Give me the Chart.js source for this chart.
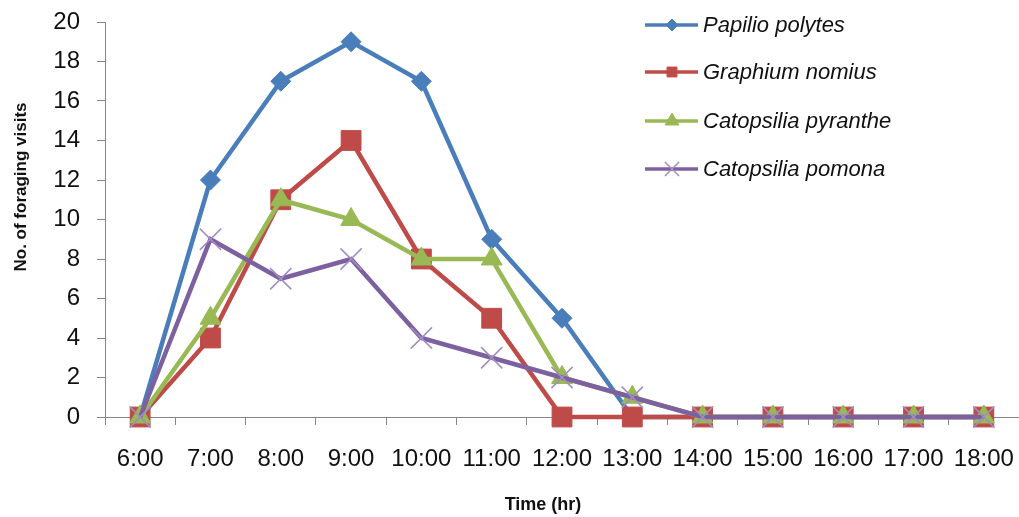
<!DOCTYPE html>
<html>
<head>
<meta charset="utf-8">
<script src="https://cdn.jsdelivr.net/npm/chart.js@4"></script>
<style>
  body { margin: 0; background: #fff; }
  #wrap { width: 1019px; height: 517px; position: relative; }
</style>
</head>
<body>
<div id="wrap"><canvas id="lineChart"></canvas></div>
<script>
// Chart data
const hours = ['6:00', '7:00', '8:00', '9:00', '10:00', '11:00', '12:00', '13:00', '14:00', '15:00', '16:00', '17:00', '18:00'];
const papilioPolytes = [0, 12, 17, 19, 17, 9, 5, 0, 0, 0, 0, 0, 0];
const graphiumNomius = [0, 4, 11, 14, 8, 5, 0, 0, 0, 0, 0, 0, 0];
const catopsiliaPyranthe = [0, 5, 11, 10, 8, 8, 2, 1, 0, 0, 0, 0, 0];
const catopsiliaPomona = [0, 9, 7, 8, 4, 3, 2, 1, 0, 0, 0, 0, 0];
const seriesNames = ['Papilio polytes', 'Graphium nomius', 'Catopsilia pyranthe', 'Catopsilia pomona'];
const yTicks = [0, 2, 4, 6, 8, 10, 12, 14, 16, 18, 20];

const axisColor = '#868686';
const legendRadius = [6, 7, 8, 10]; // legend markers are a bit smaller than the plot ones

// Legend drawn inside the plot, at the top right
const insideLegend = {
    id: 'insideLegend',
    afterDraw(chart) {
        const ctx = chart.ctx;
        const rows = [25, 72, 121, 169];
        chart.data.datasets.forEach((ds, i) => {
            const y = rows[i];
            ctx.save();
            ctx.strokeStyle = ds.borderColor;
            ctx.lineWidth = 3.5;
            ctx.beginPath();
            ctx.moveTo(645, y);
            ctx.lineTo(698, y);
            ctx.stroke();
            ctx.fillStyle = ds.pointBackgroundColor;
            ctx.strokeStyle = ds.pointBorderColor;
            ctx.lineWidth = ds.pointBorderWidth;
            Chart.helpers.drawPoint(ctx, {
                pointStyle: ds.pointStyle,
                radius: legendRadius[i],
                borderWidth: ds.pointBorderWidth
            }, 672, y);
            ctx.fillStyle = '#111';
            ctx.font = 'italic 22px "Liberation Sans"';
            ctx.textBaseline = 'middle';
            ctx.textAlign = 'left';
            ctx.fillText(ds.label, 703, y + 1);
            ctx.restore();
        });
    }
};

// Axis titles placed where the original has them
const axisTitles = {
    id: 'axisTitles',
    afterDraw(chart) {
        const ctx = chart.ctx;
        ctx.save();
        ctx.fillStyle = '#111';
        ctx.textAlign = 'center';
        ctx.textBaseline = 'middle';
        ctx.font = 'bold 18px "Liberation Sans"';
        ctx.fillText('Time (hr)', 543, 505);
        ctx.translate(21, 187);
        ctx.rotate(-Math.PI / 2);
        ctx.font = 'bold 17px "Liberation Sans"';
        ctx.fillText('No. of foraging visits', 0, 0);
        ctx.restore();
    }
};

function makeSet(label, data, color, style, radius, order, ptBorder, ptBorderWidth, ptFill) {
    return {
        label: label,
        data: data,
        borderColor: color,
        backgroundColor: color,
        borderWidth: 4.5,
        pointStyle: style,
        pointRadius: radius,
        pointHoverRadius: radius,
        pointBackgroundColor: ptFill,
        pointBorderColor: ptBorder,
        pointBorderWidth: ptBorderWidth,
        tension: 0,
        clip: false,
        order: order
    };
}

const ctx = document.getElementById('lineChart').getContext('2d');
const lineChart = new Chart(ctx, {
    type: 'line',
    data: {
        labels: hours,
        datasets: [
            makeSet(seriesNames[0], papilioPolytes, '#4a7ebb', 'rectRot', 10, 4, '#4a7ebb', 1, '#4a7ebb'),
            makeSet(seriesNames[1], graphiumNomius, '#be4b48', 'rect', 14, 3, '#be4b48', 1, '#be4b48'),
            makeSet(seriesNames[2], catopsiliaPyranthe, '#98b954', 'triangle', 12, 2, '#98b954', 1, '#98b954'),
            makeSet(seriesNames[3], catopsiliaPomona, '#7d60a0', 'crossRot', 15, 1, '#a18dc2', 1.5, '#a18dc2')
        ]
    },
    options: {
        responsive: true,
        maintainAspectRatio: false,
        animation: false,
        layout: {
            autoPadding: false,
            padding: { top: 22, right: 0, left: 0, bottom: 0 }
        },
        plugins: {
            legend: { display: false },
            tooltip: { enabled: false }
        },
        scales: {
            x: {
                offset: true,
                grid: {
                    offset: true,
                    drawOnChartArea: false,
                    tickLength: 8,
                    color: axisColor
                },
                border: { color: axisColor, width: 1 },
                ticks: {
                    color: '#111',
                    padding: 20,
                    maxRotation: 0,
                    autoSkip: false,
                    font: { family: 'Liberation Sans', size: 24 }
                },
                afterFit(scale) {
                    scale.height = 100;
                    scale.paddingLeft = 0;
                    scale.paddingRight = 0;
                }
            },
            y: {
                min: 0,
                max: 20,
                afterBuildTicks(scale) {
                    scale.ticks = yTicks.map(v => ({ value: v }));
                },
                grid: {
                    drawOnChartArea: false,
                    tickLength: 8,
                    color: axisColor
                },
                border: { color: axisColor, width: 1 },
                ticks: {
                    color: '#111',
                    padding: 17,
                    font: { family: 'Liberation Sans', size: 24 }
                },
                afterFit(scale) {
                    scale.width = 105;
                    scale.paddingTop = 0;
                    scale.paddingBottom = 0;
                }
            }
        }
    },
    plugins: [insideLegend, axisTitles]
});
</script>
</body>
</html>
